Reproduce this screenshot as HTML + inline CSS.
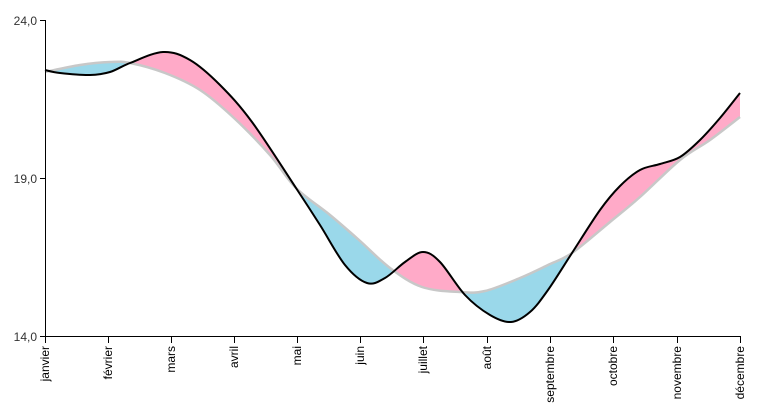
<!DOCTYPE html>
<html><head><meta charset="utf-8"><style>
html,body{margin:0;padding:0;background:#fff;}
svg{display:block;font-family:"Liberation Sans",sans-serif;font-size:12px;}
</style></head><body>
<svg id="s" width="763" height="416" viewBox="0 0 763 416">
<defs>
<clipPath id="above"><path id="ca"/></clipPath>
<clipPath id="below"><path id="cb"/></clipPath>
</defs>
<path id="pink" fill="#ffaac8" clip-path="url(#above)"/>
<path id="blue" fill="#9ad8ea" clip-path="url(#below)"/>
<path id="gray" fill="none" stroke="#c8c8c8" stroke-width="2.5"/>
<path id="black" fill="none" stroke="#000" stroke-width="2"/>
<g stroke="#000" stroke-width="1" fill="none">
<line x1="45.5" y1="20" x2="45.5" y2="337"/>
<line x1="45" y1="336.5" x2="741" y2="336.5"/>
<line x1="40" y1="20.5" x2="45" y2="20.5"/>
<line x1="40" y1="178.5" x2="45" y2="178.5"/>
<line x1="40" y1="336.5" x2="45" y2="336.5"/>
</g>
<g fill="#333" text-anchor="end">
<text x="37" y="25">24,0</text>
<text x="37" y="183">19,0</text>
<text x="37" y="341">14,0</text>
</g>
<g id="xt"></g>
</svg>
<script>
var B=[[45,70],[60,73],[90,75],[110,72],[130,63],[163,52],[190,60],[220,85],[252,122],[296,188],[320,225],[345,265],[367,283],[385,278],[405,262],[423,252],[440,262],[465,295],[490,315],[511,322],[530,312],[548,290],[572,253],[600,210],[620,186],[640,170],[660,164],[680,157],[700,140],[720,118],[740,93]];
var G=[[45,72],[80,65],[110,62],[130,63],[165,73],[200,90],[234,118],[270,155],[296,188],[330,215],[359,240],[390,268],[422,287],[460,292],[485,291],[520,278],[548,265],[572,253],[610,222],[640,197],[680,160],[710,140],[740,117]];
function cr(p,move){var d=move?"M"+p[0]:"";for(var i=0;i<p.length-1;i++){var a=p[i-1]||p[i],b=p[i],c=p[i+1],e=p[i+2]||c;
var c1=[b[0]+(c[0]-a[0])/6,b[1]+(c[1]-a[1])/6],c2=[c[0]-(e[0]-b[0])/6,c[1]-(e[1]-b[1])/6];
d+="C"+c1+" "+c2+" "+c;}return d;}
var bp=cr(B,true),gp=cr(G,true),gr=cr(G.slice().reverse(),false);
document.getElementById('black').setAttribute('d',bp);
document.getElementById('gray').setAttribute('d',gp);
var area=bp+"L740,117"+gr+"Z";
document.getElementById('pink').setAttribute('d',area);
document.getElementById('blue').setAttribute('d',area);
document.getElementById('ca').setAttribute('d',gp+"L760,117L760,0L30,0L30,72Z");
document.getElementById('cb').setAttribute('d',gp+"L760,117L760,416L30,416L30,72Z");
var m=["janvier","février","mars","avril","mai","juin","juillet","août","septembre","octobre","novembre","décembre"];
var xs=[45,108,171,234,297,360,423,487,550,613,677,740],h="";
for(var i=0;i<12;i++){h+='<line x1="'+(xs[i]+.5)+'" y1="336" x2="'+(xs[i]+.5)+'" y2="343" stroke="#000"/>';
h+='<text transform="translate('+(xs[i]+4)+',346) rotate(-90)" text-anchor="end" fill="#000">'+m[i]+'</text>';}
document.getElementById('xt').innerHTML=h;
</script>
</body></html>
